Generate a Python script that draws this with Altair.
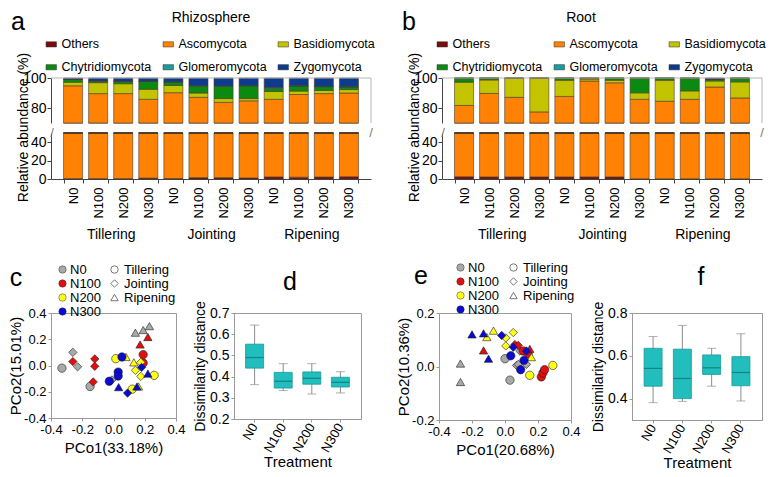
import altair as alt
import pandas as pd

FONT = "Liberation Sans"

# ---------------- data ----------------
stages = ["Tillering"] * 4 + ["Jointing"] * 4 + ["Ripening"] * 4
treatments = ["N0", "N100", "N200", "N300"] * 3
stage_levels = ["Tillering", "Jointing", "Ripening"]
trt_levels = ["N0", "N100", "N200", "N300"]
phyla = ["Others", "Ascomycota", "Basidiomycota", "Chytridiomycota", "Glomeromycota", "Zygomycota"]
phylum_colors = ["#7b0c0c", "#ff8205", "#c3c300", "#0b8a12", "#1c9a9c", "#0c3c8e"]
trt_colors = ["#a9a9a9", "#e10f0f", "#ffff14", "#0a0ad2"]

rhizo_others = [0.4, 0.4, 0.4, 1.0, 0.5, 1.5, 1.5, 1.2, 2.3, 2.0, 2.2, 2.5]
rhizo_asco = [94.4, 89.2, 89.2, 84.8, 89.7, 85.6, 82.3, 83.6, 83.5, 87.0, 87.4, 87.5]
rhizo_basid = [2.4, 7.3, 6.6, 6.7, 4.8, 2.9, 2.5, 1.5, 5.2, 2.3, 2.1, 2.3]
rhizo_chytrid = [1.8, 1.0, 1.5, 5.2, 2.3, 4.6, 8.3, 8.5, 2.1, 3.3, 2.5, 1.7]
rhizo_glomero = [0.0, 0.1, 0.1, 0.1, 0.1, 0.2, 0.1, 0.1, 0.6, 0.2, 0.2, 0.2]
rhizo_zygo = [1.0, 2.0, 2.2, 2.2, 2.6, 5.2, 5.3, 5.1, 6.3, 5.2, 5.6, 5.8]

root_others = [2.5, 2.3, 2.3, 2.3, 2.3, 2.3, 2.3, 0.2, 0.2, 0.2, 0.2, 0.2]
root_asco = [79.2, 87.4, 84.8, 75.1, 85.4, 95.7, 94.5, 85.6, 84.3, 85.6, 93.8, 86.5]
root_basid = [15.5, 9.0, 12.6, 22.3, 10.8, 1.3, 1.7, 4.3, 14.0, 5.6, 4.0, 10.7]
root_chytrid = [2.8, 1.3, 0.3, 0.3, 1.5, 0.7, 1.5, 9.9, 1.5, 8.6, 1.1, 2.6]
root_glomero = [0.0] * 12
root_zygo = [0, 0, 0, 0, 0, 0, 0, 0, 0, 0, 0.9, 0]

# PCoA rhizosphere (panel c)
c_x = [-0.33, -0.15, -0.26, -0.23, -0.01, 0.14, 0.19, 0.23,
       -0.26, -0.12, -0.12, -0.13, 0.19, 0.19, 0.17, 0.22,
       0.015, 0.08, 0.13, 0.14, 0.175, 0.175, 0.26, 0.12, 0.16,
       0.054, -0.027, 0.03, 0.03, 0.033, 0.09, 0.15, 0.18, 0.22]
c_y = [-0.02, -0.16, 0.10, -0.01, -0.11, 0.25, 0.27, 0.30,
       0.03, 0.05, -0.006, -0.125, 0.083, 0.019, 0.16, 0.217,
       0.052, 0.065, 0.024, -0.037, 0.024, -0.083, -0.075, -0.18, -0.16,
       0.065, -0.12, -0.05, -0.08, -0.165, -0.21, -0.16, -0.014, -0.062]
c_trt = ["N0"] * 8 + ["N100"] * 8 + ["N200"] * 9 + ["N300"] * 9
c_stage = ["Tillering", "Tillering", "Jointing", "Jointing", "Jointing", "Ripening", "Ripening", "Ripening",
           "Jointing", "Jointing", "Jointing", "Jointing", "Tillering", "Tillering", "Ripening", "Ripening",
           "Tillering", "Ripening", "Ripening", "Jointing", "Jointing", "Jointing", "Tillering", "Tillering", "Ripening",
           "Tillering", "Tillering", "Tillering", "Tillering", "Ripening", "Jointing", "Ripening", "Jointing", "Ripening"]

# PCoA root (panel e)
e_x = [-0.27, -0.27, 0.00, 0.03, 0.07, 0.08, 0.09, 0.13,
       -0.13, 0.06, 0.08, 0.11, 0.14, 0.15, 0.22, 0.23, 0.24,
       -0.07, -0.11, 0.05, 0.005, 0.005, 0.16, 0.15, 0.29,
       -0.20, -0.13, -0.10, -0.02, 0.05, 0.035, 0.115, 0.095, 0.13]
e_y = [0.011, -0.058, 0.029, -0.051, 0.004, 0.008, 0.058, 0.008,
       0.06, 0.082, 0.079, 0.058, 0.048, 0.066, -0.039, -0.024, -0.012,
       0.134, 0.11, 0.127, 0.107, 0.077, 0.035, -0.033, 0.004,
       0.12, 0.124, 0.029, 0.116, 0.072, 0.04, 0.023, -0.012, 0.058]
e_trt = ["N0"] * 8 + ["N100"] * 9 + ["N200"] * 8 + ["N300"] * 9
e_stage = ["Ripening", "Ripening", "Tillering", "Tillering", "Jointing", "Jointing", "Jointing", "Jointing",
           "Ripening", "Jointing", "Jointing", "Tillering", "Tillering", "Ripening", "Tillering", "Tillering", "Tillering",
           "Ripening", "Ripening", "Jointing", "Jointing", "Jointing", "Ripening", "Tillering", "Tillering",
           "Ripening", "Ripening", "Ripening", "Jointing", "Jointing", "Tillering", "Tillering", "Tillering", "Jointing"]

# Dissimilarity box summaries
d_lo = [0.362, 0.334, 0.318, 0.323]
d_q1 = [0.440, 0.346, 0.364, 0.351]
d_med = [0.490, 0.378, 0.392, 0.373]
d_q3 = [0.553, 0.420, 0.422, 0.397]
d_hi = [0.643, 0.461, 0.461, 0.423]

f_lo = [0.381, 0.387, 0.458, 0.389]
f_q1 = [0.458, 0.400, 0.513, 0.460]
f_med = [0.541, 0.494, 0.544, 0.522]
f_q3 = [0.635, 0.631, 0.604, 0.596]
f_hi = [0.690, 0.742, 0.635, 0.703]

panel_titles = ["Rhizosphere", "Root"]
panel_letters = ["a", "b", "c", "d", "e", "f"]
axis_titles = ["Relative abundance (%)", "PCo1(33.18%)", "PCo2(15.01%)", "PCo1(20.68%)", "PCo2(10.36%)",
               "Dissimilarity distance", "Treatment"]

bar_index = list(range(12))


def txt(s):
    return pd.DataFrame({"t": [s]})


# ---------------- bar panels (broken y axis in one layered view) ----------------
def bar_panel(vals, title_text, title_x, letter, W, ytitle):
    H_top, GAP, H_bot = 45, 10, 46
    H = H_top + GAP + H_bot
    rows = []
    for k, p in enumerate(phyla):
        for i in bar_index:
            rows.append({"idx": i, "stage": stages[i], "treatment": treatments[i],
                         "phylum": p, "k": k, "value": vals[k][i]})
    df = pd.DataFrame(rows)
    xs = alt.Scale(domain=bar_index, paddingInner=0.24, paddingOuter=0.5)
    xax = alt.Axis(title=None, labelAngle=-90,
                   labelExpr="['N0','N100','N200','N300'][datum.value % 4]",
                   tickBand="extent", labelFontSize=13, labelPadding=4, tickSize=4,
                   domainColor="#444", tickColor="#444", labelColor="#000")
    X = alt.X("idx:O", scale=xs, axis=xax)
    cs = alt.Scale(domain=phyla, range=phylum_colors)
    leg = alt.Legend(orient="none", legendX=-6, legendY=-40, columns=3, direction="horizontal",
                     title=None, symbolType="M-1,-0.5H1V0.5H-1Z", symbolSize=110,
                     symbolStrokeColor="#333", symbolStrokeWidth=0.5, labelFontSize=12.5,
                     labelOffset=4, rowPadding=10, columnPadding=10, labelColor="#000")
    C = alt.Color("phylum:N", scale=cs, legend=leg)
    O = alt.Order("k:Q", sort="ascending")
    yax = dict(orient="left", tickSize=4, labelPadding=1, labelFontSize=14, domainColor="#444",
               tickColor="#444", grid=False, labelColor="#000")
    top_bars = alt.Chart(df).mark_bar(stroke="#4d3b2a", strokeWidth=0.6).encode(
        x=X,
        y=alt.Y("value:Q", stack="zero",
                scale=alt.Scale(domain=[70, 100], range=[H_top, 0], clamp=True, nice=False, zero=False),
                axis=alt.Axis(values=[80, 100], title=None, **yax)),
        color=C, order=O)
    bot_bars = alt.Chart(df).mark_bar(stroke="#4d3b2a", strokeWidth=0.6).encode(
        x=X,
        y=alt.Y("value:Q", stack="zero",
                scale=alt.Scale(domain=[0, 50], range=[H, H_top + GAP], clamp=True, nice=False),
                axis=alt.Axis(values=[0, 20, 40], title=ytitle, titleY=H_top + 4, titleFontSize=14,
                              titlePadding=0, **yax)),
        color=C, order=O)
    top_line = alt.Chart(txt("")).mark_rule(color="#b5b5b5").encode(
        x=alt.value(0), x2=alt.value(W), y=alt.value(0))
    right_line = alt.Chart(txt("")).mark_rule(color="#b5b5b5").encode(
        x=alt.value(W), y=alt.value(0), y2=alt.value(H_top))
    sl_l = alt.Chart(txt("/")).mark_text(fontSize=13, color="#777", baseline="middle").encode(
        text="t:N", x=alt.value(1), y=alt.value(H_top + GAP))
    sl_r = alt.Chart(txt("/")).mark_text(fontSize=13, color="#777", baseline="middle").encode(
        text="t:N", x=alt.value(W), y=alt.value(H_top + GAP))
    grp_df = pd.DataFrame({"idx": [2, 6, 10], "label": stage_levels})
    grp = alt.Chart(grp_df).mark_text(fontSize=14, dx=-12, baseline="middle").encode(
        x=X, y=alt.value(H + 56), text="label:N")
    ttl = alt.Chart(txt(title_text)).mark_text(fontSize=14, baseline="middle").encode(
        text="t:N", x=alt.value(title_x), y=alt.value(-60))
    let = alt.Chart(txt(letter)).mark_text(fontSize=25, baseline="middle").encode(
        text="t:N", x=alt.value(-33), y=alt.value(-56))
    return alt.layer(top_bars, bot_bars, top_line, right_line, sl_l, sl_r, grp, ttl, let).resolve_scale(
        y="independent").properties(width=W, height=H)


a_panel = bar_panel([rhizo_others, rhizo_asco, rhizo_basid, rhizo_chytrid, rhizo_glomero, rhizo_zygo],
                    panel_titles[0], 160, panel_letters[0], 320, axis_titles[0])
b_panel = bar_panel([root_others, root_asco, root_basid, root_chytrid, root_glomero, root_zygo],
                    panel_titles[1], 139, panel_letters[1], 320, axis_titles[0])

# ---------------- PCoA panels ----------------
LAB = "replace(format(datum.value, '.1f'), '\u2212', '-')"


def pcoa_panel(xv, yv, trts, stgs, xtitle, ytitle, ydom, yvals, letter, lxy, leg1, leg2, W, H):
    df = pd.DataFrame({"x": xv, "y": yv, "treatment": trts, "stage": stgs})
    ax = dict(tickSize=3, labelFontSize=13, titleFontSize=15, domainColor="#9a9a9a",
              tickColor="#9a9a9a", grid=False, labelExpr=LAB, labelColor="#000",
              labelOverlap=False, labelFlush=False)
    pts = alt.Chart(df).mark_point(filled=True, size=70, color="white", stroke="#1e1e1e",
                                   strokeWidth=0.6, opacity=1).encode(
        x=alt.X("x:Q", scale=alt.Scale(domain=[-0.4, 0.4], nice=False),
                axis=alt.Axis(values=[-0.4, -0.2, 0, 0.2, 0.4], title=xtitle, titlePadding=4, **ax)),
        y=alt.Y("y:Q", scale=alt.Scale(domain=ydom, nice=False),
                axis=alt.Axis(values=yvals, title=ytitle, titlePadding=0, **ax)),
        color=alt.Color("treatment:N", scale=alt.Scale(domain=trt_levels, range=trt_colors),
                        legend=alt.Legend(orient="none", legendX=leg1[0], legendY=leg1[1], title=None,
                                          symbolType="circle", symbolSize=55, labelFontSize=13,
                                          rowPadding=0, labelOffset=1, symbolStrokeColor="#333",
                                          symbolStrokeWidth=0.5, labelColor="#000")),
        shape=alt.Shape("stage:N", scale=alt.Scale(domain=stage_levels,
                                                   range=["circle", "diamond", "triangle-up"]),
                        legend=alt.Legend(orient="none", legendX=leg2[0], legendY=leg2[1], title=None,
                                          symbolSize=55, labelFontSize=13, rowPadding=0, labelOffset=3,
                                          symbolFillColor="white", symbolStrokeColor="#777",
                                          symbolStrokeWidth=1, labelColor="#000")),
    )
    let = alt.Chart(txt(letter)).mark_text(fontSize=25, baseline="middle").encode(
        text="t:N", x=alt.value(lxy[0]), y=alt.value(lxy[1]))
    return alt.layer(pts, let).properties(width=W, height=H,
                                          view=alt.ViewBackground(stroke="#9a9a9a"))


c_panel = pcoa_panel(c_x, c_y, c_trt, c_stage, axis_titles[1], axis_titles[2], [-0.4, 0.4],
                     [-0.4, -0.2, 0, 0.2, 0.4], panel_letters[2], (-35, -35), (5, -50), (57, -50), 125, 105)
e_panel = pcoa_panel(e_x, e_y, e_trt, e_stage, axis_titles[3], axis_titles[4], [-0.2, 0.2],
                     [-0.2, 0, 0.2], panel_letters[4], (-18, -37), (15, -52), (68, -52), 132, 107)


# ---------------- box panels ----------------
def box_panel(lo, q1, med, q3, hi, ydom, yvals, letter, lxy, W, H):
    df = pd.DataFrame({"treatment": trt_levels, "lo": lo, "q1": q1, "med": med, "q3": q3, "hi": hi})
    xs = alt.Scale(domain=trt_levels, paddingInner=0.4, paddingOuter=0.42)
    ys = alt.Scale(domain=ydom, nice=False, zero=False)
    xax = alt.Axis(title=axis_titles[6], labelAngle=-60, labelFontSize=13, titleFontSize=15,
                   tickSize=3, domainColor="#9a9a9a", tickColor="#9a9a9a", labelColor="#000",
                   titlePadding=0)

    def yax():
        return alt.Axis(values=yvals, title=axis_titles[5], format=".1f", labelFontSize=14,
                        titleFontSize=14, tickSize=3, domainColor="#9a9a9a", tickColor="#9a9a9a",
                        grid=False, titlePadding=2, labelColor="#000")

    base = alt.Chart(df)
    X = alt.X("treatment:N", scale=xs, axis=xax)
    whisk = base.mark_rule(color="#8c8c8c").encode(
        x=X, y=alt.Y("lo:Q", scale=ys, axis=yax(), title=axis_titles[5]), y2="hi:Q")
    cap_lo = base.mark_tick(color="#8c8c8c", size=9, thickness=1).encode(
        x=X, y=alt.Y("lo:Q", scale=ys, axis=yax(), title=axis_titles[5]))
    cap_hi = base.mark_tick(color="#8c8c8c", size=9, thickness=1).encode(
        x=X, y=alt.Y("hi:Q", scale=ys, axis=yax(), title=axis_titles[5]))
    box = base.mark_bar(size=18, color="#22bdbd", stroke="#179a9a", strokeWidth=0.8).encode(
        x=X, y=alt.Y("q1:Q", scale=ys, axis=yax(), title=axis_titles[5]), y2="q3:Q")
    md = base.mark_tick(size=18, thickness=1.2, color="#0d6b6b").encode(
        x=X, y=alt.Y("med:Q", scale=ys, axis=yax(), title=axis_titles[5]))
    let = alt.Chart(txt(letter)).mark_text(fontSize=25, baseline="middle").encode(
        text="t:N", x=alt.value(lxy[0]), y=alt.value(lxy[1]))
    return alt.layer(whisk, cap_lo, cap_hi, box, md, let).properties(
        width=W, height=H, view=alt.ViewBackground(stroke="#9a9a9a"))


d_panel = box_panel(d_lo, d_q1, d_med, d_q3, d_hi, [0.2, 0.7], [0.2, 0.3, 0.4, 0.5, 0.6, 0.7],
                    panel_letters[3], (56, -31), 127, 106)
f_panel = box_panel(f_lo, f_q1, f_med, f_q3, f_hi, [0.3, 0.8], [0.4, 0.6, 0.8],
                    panel_letters[5], (69, -36), 130, 107)


def spacer(w):
    return alt.Chart(txt("")).mark_text().encode(text="t:N").properties(width=w, height=10)


# ---------------- layout ----------------
RES = dict(color="independent", shape="independent")
top_row = alt.hconcat(a_panel, b_panel, spacing=71, bounds="flush").resolve_scale(**RES)
bottom_row = alt.hconcat(c_panel, spacer(58), d_panel, spacer(78), e_panel, spacer(61), f_panel,
                         spacing=0, bounds="flush").resolve_scale(**RES)

chart = alt.vconcat(top_row, bottom_row, spacing=18).resolve_scale(**RES).properties(
    padding={"left": 0, "top": 2, "right": 2, "bottom": 0}
).configure(font=FONT).configure_view(stroke=None).configure_axis(
    labelFont=FONT, titleFont=FONT, titleFontWeight="normal", titleColor="#000"
).configure_legend(labelFont=FONT).configure_title(font=FONT, fontWeight="normal")

chart.save("out.html", embed_options={"renderer": "svg", "actions": False})
